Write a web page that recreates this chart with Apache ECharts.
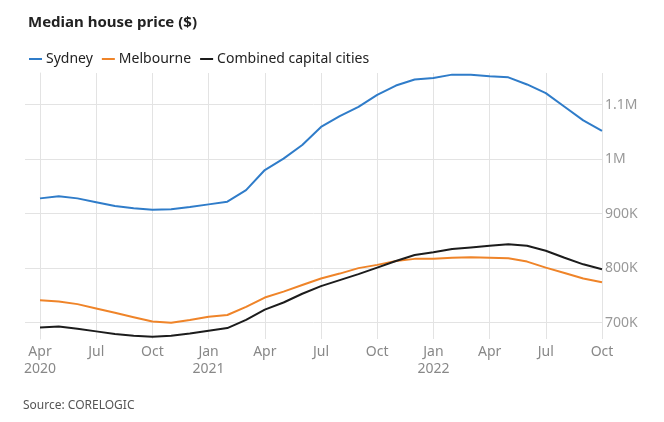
<!DOCTYPE html>
<html><head><meta charset="utf-8">
<script src="https://cdn.jsdelivr.net/npm/echarts@6/dist/echarts.min.js"></script>
<style>html,body{margin:0;padding:0;background:#fff}#c{width:664px;height:422px}</style>
</head><body><div id="c"></div>
<script>
const months = ['Apr 2020','May 2020','Jun 2020','Jul 2020','Aug 2020','Sep 2020','Oct 2020','Nov 2020','Dec 2020',
  'Jan 2021','Feb 2021','Mar 2021','Apr 2021','May 2021','Jun 2021','Jul 2021','Aug 2021','Sep 2021','Oct 2021','Nov 2021','Dec 2021',
  'Jan 2022','Feb 2022','Mar 2022','Apr 2022','May 2022','Jun 2022','Jul 2022','Aug 2022','Sep 2022','Oct 2022'];
const sydney = [928,932,928,921,914,910,907,908,912,917,922,943,980,1001,1026,1059,1079,1096,1118,1135,1146,
  1149,1155,1155,1152,1150,1137,1121,1096,1071,1052];
const melbourne = [741,739,734,726,718,710,702,700,705,711,714,729,746,757,769,781,790,800,806,813,817,
  817,819,820,819,818,812,801,791,781,774];
const combined = [691,693,689,684,679,676,674,676,680,685,690,705,724,737,753,767,778,789,801,813,824,
  829,835,838,841,844,841,832,819,807,798];
const xTickIdx = [0,3,6,9,12,15,18,21,24,27,30];
const xTickLabels = ['Apr\n2020','Jul','Oct','Jan\n2021','Apr','Jul','Oct','Jan\n2022','Apr','Jul','Oct'];
const yTicks = [700000,800000,900000,1000000,1100000];
const yTickLabels = ['700K','800K','900K','1M','1.1M'];

const toPairs = arr => arr.map((v,i)=>[i, v*1000]);
const font = '"Noto Sans", sans-serif';
const chart = echarts.init(document.getElementById('c'));
chart.setOption({
  animation:false,
  textStyle:{fontFamily:font},
  title:{text:'Median house price ($)',left:23,top:10,textStyle:{fontFamily:font,fontSize:15,fontWeight:'bold',color:'#222'}},
  legend:{left:24,top:47,icon:'rect',itemWidth:13,itemHeight:2,itemGap:9,
    textStyle:{fontFamily:font,fontSize:14,color:'#222',padding:[0,0,0,-1]},
    data:['Sydney','Melbourne','Combined capital cities']},
  graphic:[{type:'text',left:23,top:400,style:{text:'Source: CORELOGIC',font:'12px '+font,fill:'#555'}}],
  grid:{left:25,right:62,top:73,bottom:83},
  xAxis:{type:'value',min:-15/18.74,max:30,
    axisLine:{show:false},
    axisTick:{show:false,customValues:xTickIdx},
    axisLabel:{customValues:xTickIdx,formatter:v=>xTickLabels[xTickIdx.indexOf(Math.round(v))]||'',
      color:'#888',fontSize:14,lineHeight:17,margin:5,fontFamily:font},
    splitLine:{show:true,lineStyle:{color:'#e3e3e3',width:1}}},
  yAxis:{type:'value',position:'right',min:670000,max:1158000,
    axisLine:{show:true,lineStyle:{color:'#e3e3e3'}},
    axisTick:{show:true,length:11,customValues:yTicks,lineStyle:{color:'#e3e3e3'}},
    axisLabel:{customValues:yTicks,formatter:v=>yTickLabels[yTicks.indexOf(v)]||'',color:'#999',fontSize:14,margin:3,fontFamily:font},
    splitLine:{show:true,lineStyle:{color:'#e3e3e3',width:1}}},
  series:[
    {name:'Sydney',type:'line',data:toPairs(sydney),showSymbol:false,lineStyle:{width:2,color:'#2f7cc9'},itemStyle:{color:'#2f7cc9'}},
    {name:'Melbourne',type:'line',data:toPairs(melbourne),showSymbol:false,lineStyle:{width:2,color:'#ef8429'},itemStyle:{color:'#ef8429'}},
    {name:'Combined capital cities',type:'line',data:toPairs(combined),showSymbol:false,lineStyle:{width:2,color:'#1c1c1c'},itemStyle:{color:'#1c1c1c'}}
  ]
});
</script></body></html>
